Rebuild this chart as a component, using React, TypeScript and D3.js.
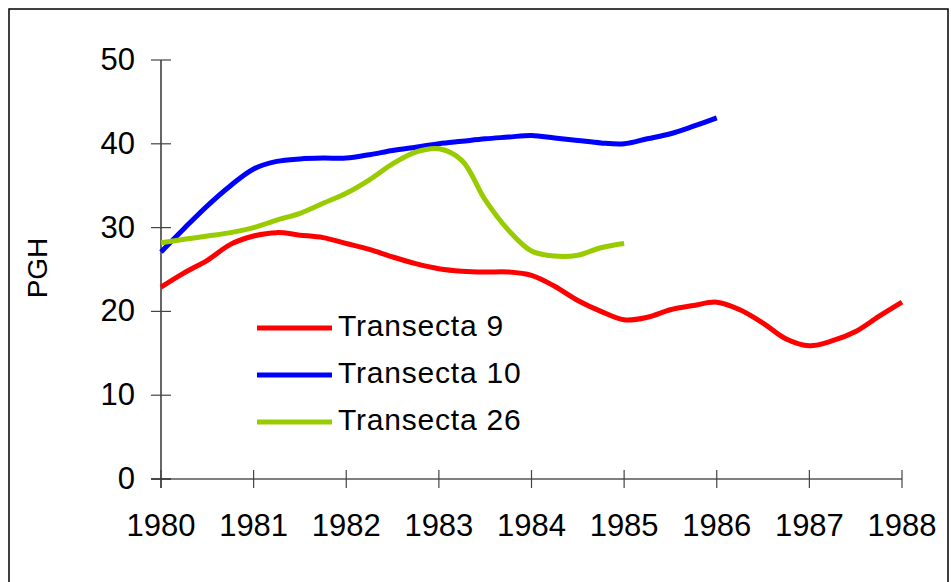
import { useEffect } from 'react'
import * as d3 from 'd3'

const WIDTH = 951
const HEIGHT = 582
const MARGIN = { top: 60, right: 49, bottom: 103, left: 161 }

const YEARS = [1980, 1981, 1982, 1983, 1984, 1985, 1986, 1987, 1988]
const Y_TICKS = [0, 10, 20, 30, 40, 50]

// quarterly sampling positions (decimal years)
const T9_X = [
  1980, 1980.25, 1980.5, 1980.75, 1981, 1981.25, 1981.5, 1981.75,
  1982, 1982.25, 1982.5, 1982.75, 1983, 1983.25, 1983.5, 1983.75,
  1984, 1984.25, 1984.5, 1984.75, 1985, 1985.25, 1985.5, 1985.75,
  1986, 1986.25, 1986.5, 1986.75, 1987, 1987.25, 1987.5, 1987.75, 1988,
]
const T9_Y = [
  22.9, 24.6, 26.1, 28.0, 29.0, 29.4, 29.1, 28.8,
  28.1, 27.4, 26.5, 25.7, 25.1, 24.8, 24.7, 24.7,
  24.3, 23.0, 21.3, 20.0, 19.0, 19.3, 20.2, 20.7,
  21.1, 20.2, 18.6, 16.7, 15.9, 16.5, 17.6, 19.4, 21.1,
]

const T10_X = [
  1980, 1980.25, 1980.5, 1980.75, 1981, 1981.25, 1981.5, 1981.75,
  1982, 1982.25, 1982.5, 1982.75, 1983, 1983.25, 1983.5, 1983.75,
  1984, 1984.25, 1984.5, 1984.75, 1985, 1985.25, 1985.5, 1985.75, 1986,
]
const T10_Y = [
  27.1, 29.9, 32.6, 35.0, 37.0, 37.9, 38.2, 38.3,
  38.3, 38.7, 39.2, 39.6, 40.0, 40.3, 40.6, 40.8,
  41.0, 40.7, 40.4, 40.1, 40.0, 40.6, 41.2, 42.1, 43.1,
]

const T26_X = [
  1980, 1980.25, 1980.5, 1980.75, 1981, 1981.25, 1981.5, 1981.75,
  1982, 1982.25, 1982.5, 1982.75, 1983, 1983.25, 1983.5, 1983.75,
  1984, 1984.25, 1984.5, 1984.75, 1985,
]
const T26_Y = [
  28.2, 28.6, 29.0, 29.4, 30.0, 30.9, 31.7, 32.9,
  34.1, 35.7, 37.6, 39.0, 39.4, 38.0, 33.3, 29.7,
  27.2, 26.6, 26.7, 27.6, 28.1,
]

const SERIES = [
  { name: 'Transecta 9', color: '#ff0000', xs: T9_X, ys: T9_Y },
  { name: 'Transecta 10', color: '#0000ff', xs: T10_X, ys: T10_Y },
  { name: 'Transecta 26', color: '#99cc00', xs: T26_X, ys: T26_Y },
]

const FONT = 'Liberation Sans, Arial, sans-serif'

export default function App() {
  useEffect(() => {
    document.body.style.margin = '0'
  }, [])

  const iW = WIDTH - MARGIN.left - MARGIN.right
  const iH = HEIGHT - MARGIN.top - MARGIN.bottom

  const x = d3.scaleLinear().domain([1980, 1988]).range([0, iW])
  const y = d3.scaleLinear().domain([0, 50]).range([iH, 0])

  const line = d3
    .line<[number, number]>()
    .x((d) => x(d[0]))
    .y((d) => y(d[1]))
    .curve(d3.curveCatmullRom.alpha(0.5))

  return (
    <svg width={WIDTH} height={HEIGHT} style={{ display: 'block', background: '#fff' }}>
      {/* frame */}
      <rect x={9} y={9} width={939} height={600} fill="none" stroke="#000" strokeWidth={1.5} />

      <g transform={`translate(${MARGIN.left},${MARGIN.top})`}>
        {/* y axis */}
        <line x1={0} x2={0} y1={0} y2={iH + 9} stroke="#000" strokeWidth={1.2} />
        {Y_TICKS.map((t) => (
          <g key={t} transform={`translate(0,${y(t)})`}>
            <line x1={-10} x2={10} stroke="#444" strokeWidth={1.2} />
            <text x={-26} dy={10} textAnchor="end" fontFamily={FONT} fontSize={31} fill="#000">
              {t}
            </text>
          </g>
        ))}

        {/* x axis */}
        <line x1={-10} x2={iW} y1={iH} y2={iH} stroke="#000" strokeWidth={1.2} />
        {YEARS.map((yr) => (
          <g key={yr} transform={`translate(${x(yr)},${iH})`}>
            <line y1={-9} y2={9} stroke="#444" strokeWidth={1.2} />
            <text y={57} textAnchor="middle" fontFamily={FONT} fontSize={31} fill="#000">
              {yr}
            </text>
          </g>
        ))}

        {/* series */}
        {SERIES.map((s) => (
          <path
            key={s.name}
            d={line(s.xs.map((v, i) => [v, s.ys[i]] as [number, number])) || ''}
            fill="none"
            stroke={s.color}
            strokeWidth={5}
            strokeLinejoin="round"
          />
        ))}
      </g>

      {/* y label */}
      <text
        transform="translate(47,268) rotate(-90)"
        textAnchor="middle"
        fontFamily={FONT}
        fontSize={28}
        fill="#000"
      >
        PGH
      </text>

      {/* legend */}
      {SERIES.map((s, i) => (
        <g key={s.name} transform={`translate(257,${328 + i * 47})`}>
          <line x1={0} x2={75} stroke={s.color} strokeWidth={5} />
          <text x={81} y={8} fontFamily={FONT} fontSize={30} letterSpacing={0.8} fill="#000">
            {s.name}
          </text>
        </g>
      ))}
    </svg>
  )
}
